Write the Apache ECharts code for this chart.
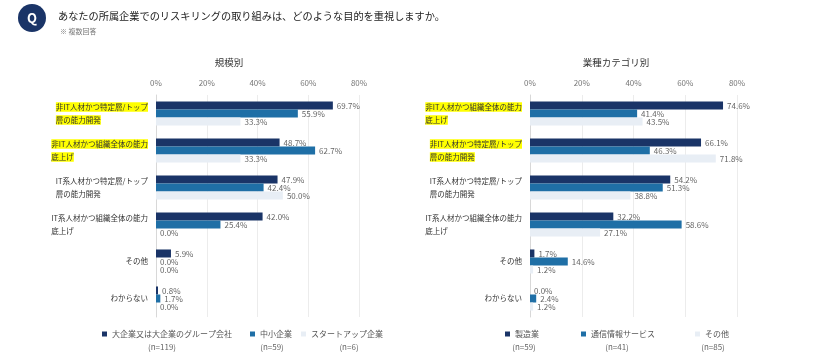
<!DOCTYPE html>
<html>
<head>
<meta charset="utf-8">
<script src="https://cdn.jsdelivr.net/npm/echarts@6/dist/echarts.min.js"></script>
<style>
  html, body { margin: 0; padding: 0; background: #fff; }
  #chart { width: 840px; height: 353px; }
</style>
</head>
<body>
<div id="chart"></div>
<script>
// 規模別
const sizeCategories = [
  '非IT人材かつ特定層/トップ\n層の能力開発',
  '非IT人材かつ組織全体の能力\n底上げ',
  'IT系人材かつ特定層/トップ\n層の能力開発',
  'IT系人材かつ組織全体の能力\n底上げ',
  'その他',
  'わからない'
]
const sizeHighlight = [true, true, false, false, false, false]
const sizeNames = ['大企業又は大企業のグループ会社', '中小企業', 'スタートアップ企業']
const sizeCounts = ['(n=119)', '(n=59)', '(n=6)']
const largeCo = [69.7, 48.7, 47.9, 42.0, 5.9, 0.8]
const smallCo = [55.9, 62.7, 42.4, 25.4, 0.0, 1.7]
const startupCo = [33.3, 33.3, 50.0, 0.0, 0.0, 0.0]

// 業種カテゴリ別
const industryCategories = [
  '非IT人材かつ組織全体の能力\n底上げ',
  '非IT人材かつ特定層/トップ\n層の能力開発',
  'IT系人材かつ特定層/トップ\n層の能力開発',
  'IT系人材かつ組織全体の能力\n底上げ',
  'その他',
  'わからない'
]
const industryHighlight = [true, true, false, false, false, false]
const industryNames = ['製造業', '通信情報サービス', 'その他 ']
const industryCounts = ['(n=59)', '(n=41)', '(n=85)']
const manufacturing = [74.6, 66.1, 54.2, 32.2, 1.7, 0.0]
const telecom = [41.4, 46.3, 51.3, 58.6, 14.6, 2.4]
const otherInd = [43.5, 71.8, 38.8, 27.1, 1.2, 1.2]

const colors = ['#1a3467', '#1f6fa6', '#e8eef5']
const font = '"Noto Sans CJK JP", "Noto Sans", sans-serif'

function catLabel(highlight) {
  return function (value, idx) {
    const lines = value.split('\n')
    const key = highlight[idx] ? 'h' : 'n'
    return lines.map(l => '{' + key + '|' + l + '}').join('\n')
  }
}
const richCat = {
  h: { fontSize: 7.5, color: '#333', backgroundColor: '#ffff00', align: 'left', lineHeight: 13, padding: [1, 0, 1, 0], fontFamily: font },
  n: { fontSize: 7.5, color: '#333', align: 'left', lineHeight: 13, fontFamily: font }
}

function barSeries(name, data, colorIdx, axisIdx) {
  return {
    name: name,
    type: 'bar',
    xAxisIndex: axisIdx,
    yAxisIndex: axisIdx,
    data: data,
    barGap: '0%',
    barCategoryGap: '35%',
    itemStyle: { color: colors[colorIdx] },
    label: {
      show: true,
      position: 'right',
      distance: 4,
      fontSize: 8,
      color: '#666',
      fontFamily: font,
      formatter: p => p.value.toFixed(1) + '%'
    }
  }
}

function valueAxis(gridIdx) {
  return {
    type: 'value',
    gridIndex: gridIdx,
    position: 'top',
    min: 0,
    max: 80,
    interval: 20,
    axisLine: { show: false },
    axisTick: { show: false },
    axisLabel: { fontSize: 8, color: '#777', margin: 8, fontFamily: font, formatter: v => v + '%' },
    splitLine: { lineStyle: { color: '#ececec' } }
  }
}
function catAxis(gridIdx, cats, highlight) {
  return {
    type: 'category',
    gridIndex: gridIdx,
    inverse: true,
    data: cats,
    axisLine: { lineStyle: { color: '#d8d8d8' } },
    axisTick: { show: false },
    axisLabel: { margin: 8, formatter: catLabel(highlight), rich: richCat }
  }
}

const legendText = { fontSize: 8, color: '#555', fontFamily: font }
function legendItem(name, left) {
  return {
    data: [name],
    left: left,
    top: 330,
    padding: 0,
    itemWidth: 5,
    itemHeight: 5,
    itemGap: 2,
    icon: 'rect',
    selectedMode: false,
    textStyle: legendText
  }
}
function countText(txt, x) {
  return {
    type: 'text',
    x: x,
    y: 347,
    style: { text: txt, fontSize: 8, fill: '#666', align: 'center', verticalAlign: 'middle', fontFamily: font }
  }
}

const chart = echarts.init(document.getElementById('chart'))
const option = {
  animation: false,
  grid: [
    { left: 156, right: 481, top: 95, bottom: 36 },
    { left: 530, right: 103, top: 95, bottom: 36 }
  ],
  xAxis: [valueAxis(0), valueAxis(1)],
  yAxis: [catAxis(0, sizeCategories, sizeHighlight), catAxis(1, industryCategories, industryHighlight)],
  legend: [
    legendItem(sizeNames[0], 102),
    legendItem(sizeNames[1], 250),
    legendItem(sizeNames[2], 301),
    legendItem(industryNames[0], 505),
    legendItem(industryNames[1], 581),
    legendItem(industryNames[2], 695)
  ],
  series: [
    barSeries(sizeNames[0], largeCo, 0, 0),
    barSeries(sizeNames[1], smallCo, 1, 0),
    barSeries(sizeNames[2], startupCo, 2, 0),
    barSeries(industryNames[0], manufacturing, 0, 1),
    barSeries(industryNames[1], telecom, 1, 1),
    barSeries(industryNames[2], otherInd, 2, 1)
  ],
  graphic: [
    { type: 'circle', shape: { cx: 32, cy: 18, r: 14 }, style: { fill: '#1a3467' } },
    { type: 'text', x: 32, y: 18, style: { text: 'Q', fontSize: 13, fontWeight: 'bold', fill: '#fff', align: 'center', verticalAlign: 'middle', fontFamily: font } },
    { type: 'text', x: 58, y: 16, style: { text: 'あなたの所属企業でのリスキリングの取り組みは、どのような目的を重視しますか。', fontSize: 10.2, fill: '#222', verticalAlign: 'middle', fontFamily: font } },
    { type: 'text', x: 60, y: 31, style: { text: '※ 複数回答', fontSize: 7, fill: '#777', verticalAlign: 'middle', fontFamily: font } },
    { type: 'text', x: 229, y: 62, style: { text: '規模別', fontSize: 9.5, fill: '#333', align: 'center', verticalAlign: 'middle', fontFamily: font } },
    { type: 'text', x: 616, y: 62, style: { text: '業種カテゴリ別', fontSize: 9.5, fill: '#333', align: 'center', verticalAlign: 'middle', fontFamily: font } },
    countText(sizeCounts[0], 162),
    countText(sizeCounts[1], 272),
    countText(sizeCounts[2], 349),
    countText(industryCounts[0], 524),
    countText(industryCounts[1], 617),
    countText(industryCounts[2], 713)
  ]
}
chart.setOption(option)
</script>
</body>
</html>
